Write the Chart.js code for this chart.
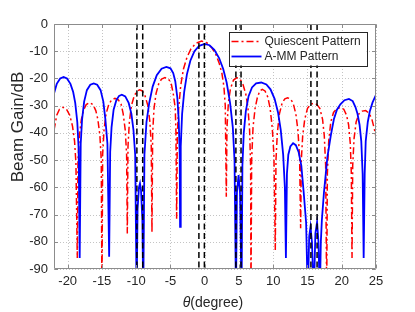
<!DOCTYPE html>
<html>
<head>
<meta charset="utf-8">
<script src="https://cdn.jsdelivr.net/npm/chart.js@4.4.0/dist/chart.umd.min.js"></script>
<style>
  html, body { margin: 0; padding: 0; background: #fff; }
</style>
</head>
<body>
<canvas id="beamChart" width="415" height="312"></canvas>
<script>
// axis ticks
const xTicks = [-20, -15, -10, -5, 0, 5, 10, 15, 20, 25];
const yTicks = [0, -10, -20, -30, -40, -50, -60, -70, -80, -90];

// Quiescent pattern
const quiescentTheta = [
  -22, -21.6, -21.2, -20.7, -20.2, -19.7, -19.3, -19.0, -18.8, -18.6,
  -18.5, -18.3, -18.0, -17.7, -17.3, -16.8, -16.3, -15.9, -15.6, -15.3, -15.1, -15.0,
  -14.9, -14.7, -14.4, -14.0, -13.6, -13.1, -12.6, -12.2, -11.9, -11.6, -11.4, -11.3,
  -11.2, -11.0, -10.7, -10.3, -9.9, -9.5, -9.1, -8.7, -8.3, -8.0, -7.8, -7.7,
  -7.6, -7.4, -7.1, -6.7, -6.3, -5.8, -5.3, -4.9, -4.6, -4.3, -4.2, -4.1,
  -4.0, -3.8, -3.5, -3.1, -2.6, -2.0, -1.3, -0.45, 0.3, 1.0, 1.6, 2.1, 2.5, 2.8, 3.0, 3.15,
  3.25, 3.45, 3.75, 4.2, 4.7, 5.2, 5.6, 6.0, 6.3, 6.55, 6.7, 6.75,
  6.85, 7.05, 7.35, 7.7, 8.05, 8.4, 8.8, 9.2, 9.55, 9.85, 10.1, 10.3,
  10.4, 10.6, 10.9, 11.3, 11.7, 12.1, 12.5, 12.9, 13.3, 13.6, 13.85, 14.0,
  14.1, 14.3, 14.6, 15.0, 15.45, 15.9, 16.35, 16.8, 17.2, 17.45, 17.65, 17.8,
  17.9, 18.1, 18.4, 18.8, 19.3, 19.8, 20.3, 20.7, 21.0, 21.25, 21.4, 21.5,
  21.6, 21.8, 22.1, 22.5, 23.0, 23.5, 24.0, 24.4, 24.75, 25
];
const quiescentGain = [
  -39, -33.5, -31.3, -30.6, -31.2, -33.5, -37.5, -43, -51, -86,
  -50, -41, -35, -31.8, -29.6, -28.9, -29.6, -31.8, -35, -41, -50, -100,
  -48, -39, -33, -29.5, -27.9, -27.3, -27.9, -29.5, -33, -39, -48, -77,
  -45, -36, -30, -26.5, -24.6, -24.2, -24.6, -26.5, -30, -36, -45, -76.5,
  -40, -31, -25.5, -21.8, -20.2, -19.7, -20.2, -21.8, -25.5, -31, -40, -71.5,
  -40, -31, -22.5, -16.5, -12.3, -9.1, -7.1, -6.3, -6.9, -8.6, -11, -14.3, -18, -23, -30, -63.5,
  -38, -29, -23.8, -20.6, -19.7, -20.4, -22.3, -25.8, -30.5, -39, -52, -100,
  -50, -38, -31, -26.8, -24.6, -24, -24.6, -26.8, -31, -38, -48, -83,
  -50, -40, -33, -29, -27.5, -27.1, -27.5, -29, -33, -39, -49, -75,
  -50, -41, -35, -31, -29.5, -29.1, -29.5, -31, -35, -41, -52, -100,
  -55, -43, -36, -32.5, -31, -30.7, -31.3, -33.5, -37, -44, -55, -86,
  -52, -42, -36, -33, -32, -31.8, -32.8, -35, -38.5, -41.4
];

// A-MM pattern
const ammTheta = [
  -22, -21.6, -21.1, -20.6, -20.1, -19.6, -19.2, -18.9, -18.6, -18.4, -18.25,
  -18.1, -17.9, -17.6, -17.2, -16.7, -16.2, -15.7, -15.2, -14.8, -14.5, -14.2, -13.95,
  -13.8, -13.6, -13.3, -12.9, -12.5, -12.1, -11.6, -11.1, -10.7, -10.4, -10.15, -9.94,
  -9.8, -9.6, -9.45, -9.3, -9.1, -8.97,
  -8.8, -8.5, -8.1, -7.6, -7.0, -6.3, -5.6, -5.0, -4.6, -4.3, -4.0, -3.8, -3.65, -3.6,
  -3.5, -3.3, -3.0, -2.6, -2.1, -1.5, -0.8, 0, 0.7, 1.4, 2.1, 2.7, 3.2, 3.7, 4.1, 4.35, 4.56,
  4.7, 4.94, 5.15, 5.38,
  5.5, 5.7, 6.0, 6.4, 6.9, 7.5, 8.25, 9.0, 9.6, 10.2, 10.7, 11.1, 11.45, 11.7, 11.85,
  12.0, 12.2, 12.5, 12.9, 13.3, 13.7, 14.1, 14.45, 14.8, 15.04,
  15.25, 15.44, 15.65, 15.92, 16.15, 16.4, 16.6, 16.8,
  16.95, 17.1, 17.4, 17.9, 18.4, 18.85, 19.3, 19.8, 20.4, 21.05, 21.6, 22.0, 22.3, 22.6, 22.85, 23.05, 23.2,
  23.35, 23.5, 23.8, 24.1, 24.5, 25
];
const ammGain = [
  -25.5, -22, -20, -19.5, -20, -22, -25, -29, -36, -46, -86,
  -44, -35, -28.5, -24.3, -22.3, -21.8, -22.3, -24.3, -28.5, -35, -44, -85.5,
  -47, -38, -31.5, -28, -26.4, -26, -26.6, -29, -33, -39, -48, -100,
  -68, -60, -58.5, -61, -72, -100,
  -48, -36, -29, -23, -18.8, -16.4, -15.8, -16.3, -18, -21, -27, -35, -48, -74.5,
  -45, -33, -25, -18.5, -13.5, -10, -8, -7.3, -7.8, -9.5, -12.5, -16.5, -21.5, -29, -38, -50, -100,
  -62, -55.5, -62, -100,
  -52, -40, -32, -26.5, -23.3, -21.8, -21.5, -22.2, -24, -27.5, -32.5, -39, -48, -60, -86,
  -55, -48, -45, -43.8, -44.5, -47, -52, -62, -73, -100,
  -78, -74.5, -80, -100, -77, -72.7, -80, -100,
  -80, -72, -62, -49, -41, -35, -31.5, -29.5, -28, -27.5, -28.3, -30.5, -33, -37, -43, -55, -86,
  -55, -43, -36, -32, -28.8, -26
];

// constraint directions (black dashed lines)
const constraintAngles = [-9.9, -9.05, -0.85, -0.05, 4.55, 5.3, 15.5, 16.4];

const legendLabels = ['Quiescent Pattern', 'A-MM Pattern'];

const FONT = '"Liberation Sans", Arial, Helvetica, sans-serif';
const TEXT_COLOR = '#262626';
const BOX_COLOR = '#8c8c8c';
const GRID_COLOR = '#c4c4c4';

function zip(xs, ys) {
  return xs.map((x, i) => ({ x: x, y: ys[i] }));
}

const redStyle = { color: '#ff0000', dash: [7, 3, 2, 3], width: 1.5 };
const blueStyle = { color: '#0000ff', dash: [], width: 1.8 };

const datasets = [];
constraintAngles.forEach(a => {
  datasets.push({
    label: 'constraint',
    data: [{ x: a, y: 0 }, { x: a, y: -90 }],
    borderColor: '#000',
    borderWidth: 1.5,
    borderDash: [6, 3.5],
    pointRadius: 0,
    showLine: true,
    clip: 0,
    order: 0
  });
});
datasets.push({
  label: legendLabels[1],
  data: zip(ammTheta, ammGain),
  borderColor: blueStyle.color,
  borderWidth: blueStyle.width,
  pointRadius: 0,
  showLine: true,
  clip: 0,
  order: 1
});
datasets.push({
  label: legendLabels[0],
  data: zip(quiescentTheta, quiescentGain),
  borderColor: redStyle.color,
  borderWidth: redStyle.width,
  borderDash: redStyle.dash,
  pointRadius: 0,
  showLine: true,
  clip: 0,
  order: 2
});

// dotted grid under the curves
const dottedGrid = {
  id: 'dottedGrid',
  beforeDatasetsDraw(chart) {
    const { ctx, chartArea: a, scales } = chart;
    ctx.save();
    ctx.strokeStyle = GRID_COLOR;
    ctx.lineWidth = 1;
    ctx.setLineDash([1, 2]);
    ctx.beginPath();
    xTicks.forEach(v => {
      const px = Math.round(scales.x.getPixelForValue(v)) + 0.5;
      ctx.moveTo(px, a.top);
      ctx.lineTo(px, a.bottom);
    });
    yTicks.forEach(v => {
      const py = Math.round(scales.y.getPixelForValue(v)) + 0.5;
      ctx.moveTo(a.left, py);
      ctx.lineTo(a.right, py);
    });
    ctx.stroke();
    ctx.restore();
  }
};

// box, inner tick marks, legend and axis titles
const decorations = {
  id: 'decorations',
  afterDraw(chart) {
    const { ctx, chartArea: a, scales } = chart;
    const sx = scales.x, sy = scales.y;
    const L = Math.round(a.left) + 0.5, R = Math.round(a.right) - 0.5;
    const T = Math.round(a.top) + 0.5, B = Math.round(a.bottom) - 0.5;
    ctx.save();
    ctx.strokeStyle = BOX_COLOR;
    ctx.lineWidth = 1;
    ctx.setLineDash([]);
    ctx.beginPath();
    ctx.rect(L, T, R - L, B - T);
    xTicks.forEach(v => {
      const px = Math.round(sx.getPixelForValue(v)) + 0.5;
      ctx.moveTo(px, B); ctx.lineTo(px, B - 3.5);
      ctx.moveTo(px, T); ctx.lineTo(px, T + 3.5);
    });
    yTicks.forEach(v => {
      const py = Math.round(sy.getPixelForValue(v)) + 0.5;
      ctx.moveTo(L, py); ctx.lineTo(L + 3.5, py);
      ctx.moveTo(R, py); ctx.lineTo(R - 3.5, py);
    });
    ctx.stroke();

    // legend
    const lx = a.right - 147.5, ly = a.top + 7.5, lw = 138, lh = 34;
    ctx.fillStyle = '#fff';
    ctx.fillRect(lx, ly, lw, lh);
    ctx.strokeStyle = TEXT_COLOR;
    ctx.strokeRect(Math.round(lx) + 0.5, Math.round(ly) + 0.5, lw, lh);
    const rows = [redStyle, blueStyle];
    rows.forEach((st, i) => {
      const y = ly + 10 + i * 15;
      ctx.strokeStyle = st.color;
      ctx.lineWidth = st.width;
      ctx.setLineDash(st.dash);
      ctx.beginPath();
      ctx.moveTo(lx + 3, y);
      ctx.lineTo(lx + 33, y);
      ctx.stroke();
      ctx.setLineDash([]);
      ctx.fillStyle = TEXT_COLOR;
      ctx.font = '12px ' + FONT;
      ctx.textAlign = 'left';
      ctx.textBaseline = 'middle';
      ctx.fillText(legendLabels[i], lx + 36, y + 0.5);
    });

    // x title: italic theta + (degree)
    ctx.fillStyle = TEXT_COLOR;
    ctx.textBaseline = 'middle';
    ctx.textAlign = 'left';
    const cx = (a.left + a.right) / 2 - 2;
    const cy = 303;
    ctx.font = 'italic 14px ' + FONT;
    const w1 = ctx.measureText('θ').width;
    ctx.font = '14px ' + FONT;
    const w2 = ctx.measureText('(degree)').width;
    const startX = cx - (w1 + w2) / 2;
    ctx.font = 'italic 14px ' + FONT;
    ctx.fillText('θ', startX, cy);
    ctx.font = '14px ' + FONT;
    ctx.fillText('(degree)', startX + w1, cy);

    // y title
    ctx.translate(18, 127);
    ctx.rotate(-Math.PI / 2);
    ctx.textAlign = 'center';
    ctx.font = '17px ' + FONT;
    ctx.fillText('Beam Gain/dB', 0, 0);
    ctx.restore();
  }
};

new Chart(document.getElementById('beamChart'), {
  type: 'scatter',
  data: { datasets: datasets },
  options: {
    responsive: false,
    animation: false,
    devicePixelRatio: 1,
    layout: { padding: { left: 0, right: 39, top: 24, bottom: 0 } },
    plugins: {
      legend: { display: false },
      tooltip: { enabled: false }
    },
    elements: { line: { tension: 0 } },
    scales: {
      x: {
        type: 'linear',
        min: -22,
        max: 25,
        afterBuildTicks: scale => { scale.ticks = xTicks.map(v => ({ value: v })); },
        afterFit: scale => { scale.height = 43; },
        ticks: {
          color: TEXT_COLOR,
          font: { family: FONT, size: 13 },
          padding: 5,
          maxRotation: 0,
          callback: v => String(v)
        },
        grid: { display: false, drawTicks: false },
        border: { display: false }
      },
      y: {
        type: 'linear',
        min: -90,
        max: 0,
        afterBuildTicks: scale => { scale.ticks = yTicks.map(v => ({ value: v })); },
        afterFit: scale => { scale.width = 54; },
        ticks: {
          color: TEXT_COLOR,
          font: { family: FONT, size: 13 },
          padding: 6,
          callback: v => String(v)
        },
        grid: { display: false, drawTicks: false },
        border: { display: false }
      }
    }
  },
  plugins: [dottedGrid, decorations]
});
</script>
</body>
</html>
